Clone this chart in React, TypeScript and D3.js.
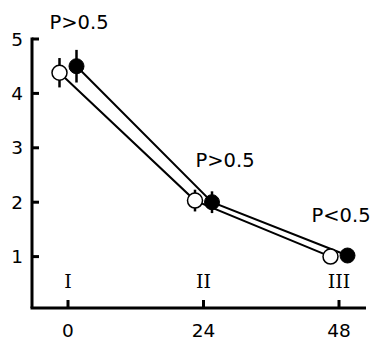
import { useEffect, useRef } from 'react'
import * as d3 from 'd3'

const times = [0, 24, 48]
const groups = ['I', 'II', 'III']
const openMean = [4.38, 2.03, 1.0]
const openErr = [0.27, 0.2, 0.05]
const filledMean = [4.5, 2.0, 1.02]
const filledErr = [0.3, 0.2, 0.05]
const pLabels = ['P>0.5', 'P>0.5', 'P<0.5']
const pLabelValues = [5.3, 2.75, 1.75]
const yTicks = [1, 2, 3, 4, 5]

export default function App() {
  const svgRef = useRef<SVGSVGElement>(null)

  useEffect(() => {
    if (!svgRef.current) return
    const svg = d3.select(svgRef.current)
    svg.selectAll('*').remove()

    const width = 383
    const height = 351
    const axisY = 308
    const axisX = 32
    const dodge = 8.5
    const sans = '"DejaVu Sans", Verdana, sans-serif'
    const serif = '"DejaVu Serif", "Liberation Serif", serif'

    svg.attr('width', width).attr('height', height)

    const x = d3.scaleLinear().domain([0, 48]).range([68, 339])
    const y = d3.scaleLinear().domain([0, 5]).range([311, 39])

    const g = svg.append('g')

    // axes
    g.append('line')
      .attr('x1', axisX).attr('x2', axisX)
      .attr('y1', y(5) - 1.5).attr('y2', axisY)
      .attr('stroke', '#000').attr('stroke-width', 3)
    g.append('line')
      .attr('x1', axisX - 1.5).attr('x2', 366)
      .attr('y1', axisY).attr('y2', axisY)
      .attr('stroke', '#000').attr('stroke-width', 3)

    yTicks.forEach(t => {
      g.append('line')
        .attr('x1', axisX).attr('x2', axisX + 7)
        .attr('y1', y(t)).attr('y2', y(t))
        .attr('stroke', '#000').attr('stroke-width', 3)
      g.append('text')
        .attr('x', 23).attr('y', y(t) + 6.5)
        .attr('text-anchor', 'end')
        .style('font-family', sans).style('font-size', '18.5px')
        .text(t)
    })

    times.forEach((t, i) => {
      g.append('line')
        .attr('x1', x(t)).attr('x2', x(t))
        .attr('y1', axisY - 8).attr('y2', axisY)
        .attr('stroke', '#000').attr('stroke-width', 3)
      g.append('text')
        .attr('x', x(t)).attr('y', 337)
        .attr('text-anchor', 'middle')
        .style('font-family', sans).style('font-size', '18.5px')
        .text(t)
      g.append('text')
        .attr('x', x(t)).attr('y', 288)
        .attr('text-anchor', 'middle')
        .style('font-family', serif).style('font-size', '19px')
        .text(groups[i])
    })

    // connecting lines
    const lineOpen = d3.line<number>()
      .x((_, i) => x(times[i]) - dodge)
      .y(d => y(d))
    const lineFilled = d3.line<number>()
      .x((_, i) => x(times[i]) + dodge)
      .y(d => y(d))

    g.append('path').attr('d', lineOpen(openMean)!)
      .attr('fill', 'none').attr('stroke', '#000').attr('stroke-width', 2)
    g.append('path').attr('d', lineFilled(filledMean)!)
      .attr('fill', 'none').attr('stroke', '#000').attr('stroke-width', 2)

    // error bars
    openMean.forEach((m, i) => {
      g.append('line')
        .attr('x1', x(times[i]) - dodge).attr('x2', x(times[i]) - dodge)
        .attr('y1', y(m + openErr[i])).attr('y2', y(m - openErr[i]))
        .attr('stroke', '#000').attr('stroke-width', 2.5)
    })
    filledMean.forEach((m, i) => {
      g.append('line')
        .attr('x1', x(times[i]) + dodge).attr('x2', x(times[i]) + dodge)
        .attr('y1', y(m + filledErr[i])).attr('y2', y(m - filledErr[i]))
        .attr('stroke', '#000').attr('stroke-width', 2.5)
    })

    // points
    openMean.forEach((m, i) => {
      g.append('circle')
        .attr('cx', x(times[i]) - dodge).attr('cy', y(m)).attr('r', 7.5)
        .attr('fill', '#fff').attr('stroke', '#000').attr('stroke-width', 1.5)
    })
    filledMean.forEach((m, i) => {
      g.append('circle')
        .attr('cx', x(times[i]) + dodge).attr('cy', y(m)).attr('r', 7.5)
        .attr('fill', '#000').attr('stroke', '#000').attr('stroke-width', 1)
    })

    // p values
    const pX = [79, 225, 341]
    pLabels.forEach((p, i) => {
      g.append('text')
        .attr('x', pX[i]).attr('y', y(pLabelValues[i]) + 6)
        .attr('text-anchor', 'middle')
        .style('font-family', sans).style('font-size', '19.5px')
        .text(p)
    })
  }, [])

  return (
    <svg ref={svgRef} style={{ position: 'absolute', left: 0, top: 0, background: '#fff' }} />
  )
}
